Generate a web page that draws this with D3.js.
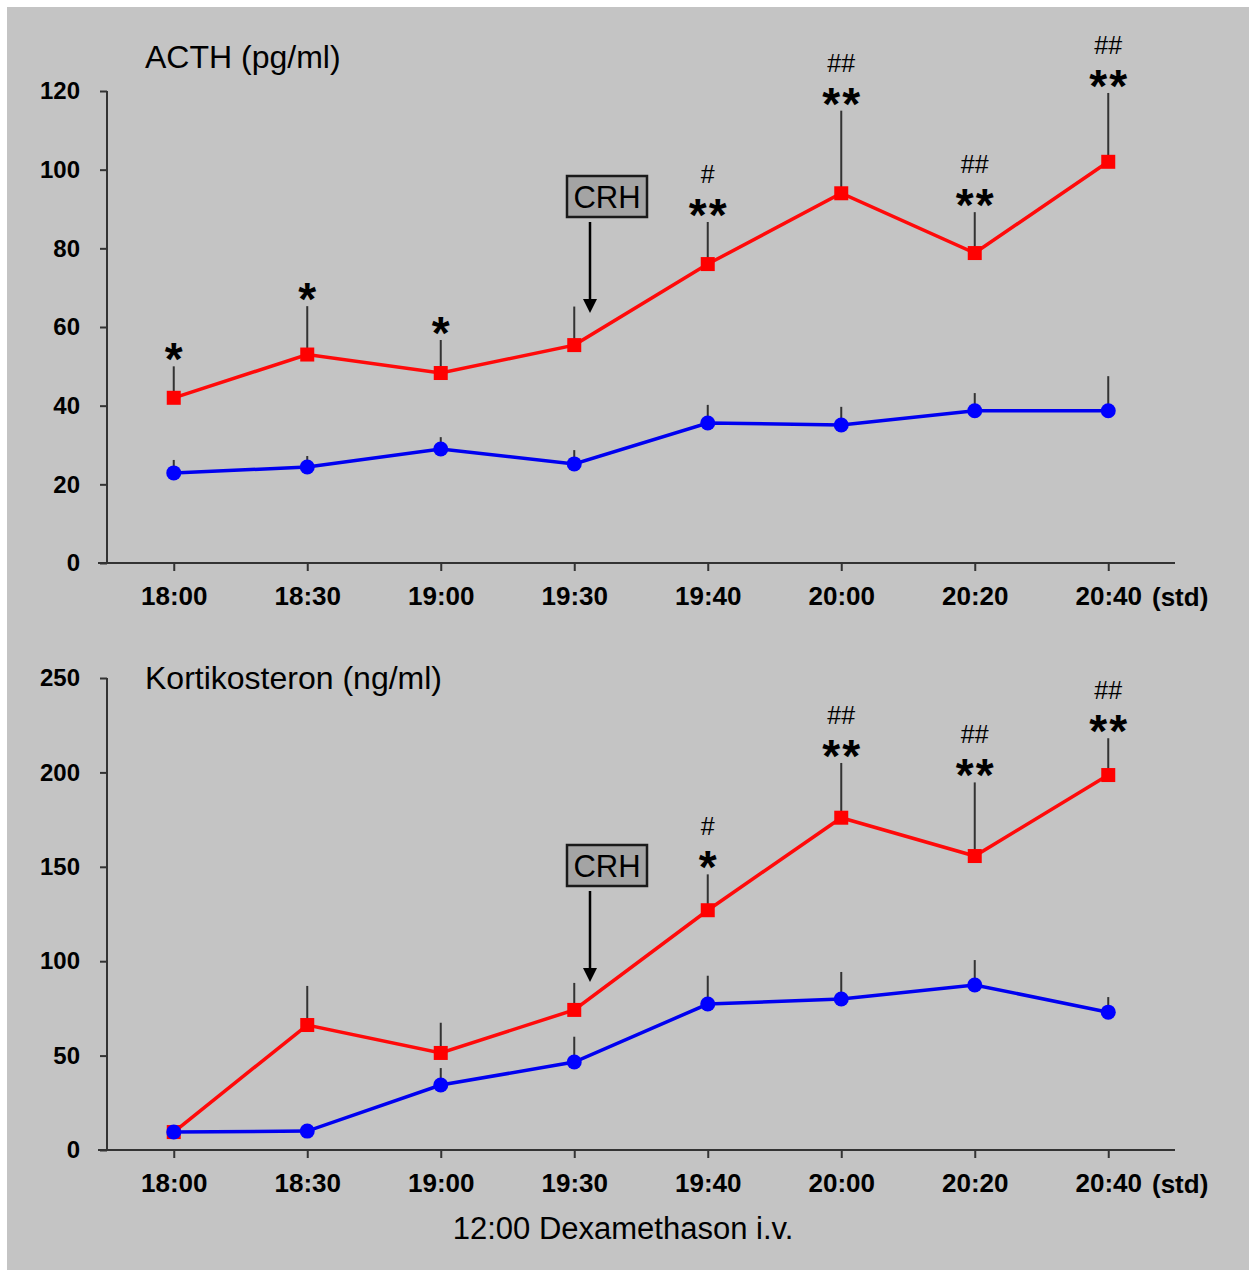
<!DOCTYPE html>
<html>
<head>
<meta charset="utf-8">
<script src="https://cdn.jsdelivr.net/npm/d3@7"></script>
<style>
  html, body { margin: 0; padding: 0; background: #ffffff; }
  svg { display: block; }
  text { font-family: "Liberation Sans", Arial, sans-serif; fill: #000; }
</style>
</head>
<body>
<svg id="chart" width="1249" height="1270"></svg>
<script>
// Sampling times after dexamethasone (x categories)
const times = ["18:00", "18:30", "19:00", "19:30", "19:40", "20:00", "20:20", "20:40"];

// ACTH (pg/ml): mean and upper error (SEM)
const acthRed      = [42, 53, 48.3, 55.4, 76, 94, 78.8, 102];
const acthRedErr   = [8, 12.3, 8.4, 9.8, 10.7, 21, 10.4, 17.5];
const acthBlue     = [22.9, 24.4, 29, 25.2, 35.6, 35.1, 38.7, 38.7];
const acthBlueErr  = [3.3, 2.8, 3, 3.5, 4.6, 4.6, 4.5, 8.8];
const acthStars    = ["*", "*", "*", "", "**", "**", "**", "**"];
const acthHashes   = ["", "", "", "", "#", "##", "##", "##"];
const acthTicks    = [0, 20, 40, 60, 80, 100, 120];

// Kortikosteron (ng/ml): mean and upper error (SEM)
const kortRed      = [9.5, 66.2, 51.4, 74.2, 127, 176, 155.7, 198.6];
const kortRedErr   = [0, 20.7, 16, 14.3, 19, 29, 39, 19.5];
const kortBlue     = [9.5, 10, 34.4, 46.6, 77.3, 80, 87.4, 73];
const kortBlueErr  = [0, 0, 9, 13.4, 15, 14.3, 13.2, 8];
const kortStars    = ["", "", "", "", "*", "**", "**", "**"];
const kortHashes   = ["", "", "", "", "#", "##", "##", "##"];
const kortTicks    = [0, 50, 100, 150, 200, 250];

const svg = d3.select("#chart");

// grey panel behind both plots
svg.append("rect")
  .attr("x", 7).attr("y", 7)
  .attr("width", 1242).attr("height", 1263)
  .attr("fill", "#c4c4c4");

const x = d3.scalePoint().domain(times).range([107, 1175]).padding(0.5);

function drawPanel(cfg) {
  const g = svg.append("g");
  const y = d3.scaleLinear().domain([0, cfg.max]).range([cfg.bottom, cfg.top]);

  // title
  g.append("text")
    .attr("x", 145).attr("y", cfg.titleY)
    .attr("font-size", 32)
    .text(cfg.title);

  // y axis
  const yAxis = g.append("g")
    .attr("transform", "translate(107,0)")
    .call(d3.axisLeft(y).tickValues(cfg.ticks).tickSize(7).tickPadding(20).tickFormat(d3.format("d")));
  yAxis.select(".domain").attr("stroke", "#333").attr("stroke-width", 2).attr("d", `M0,${cfg.top}V${cfg.bottom}`);
  yAxis.selectAll(".tick line").attr("stroke", "#333").attr("stroke-width", 2);
  yAxis.selectAll(".tick text")
    .attr("font-size", 24).attr("font-weight", "bold")
    .attr("font-family", "'Liberation Sans', Arial, sans-serif")
    .attr("fill", "#000");

  // x axis
  const xAxis = g.append("g")
    .attr("transform", `translate(0,${cfg.bottom})`)
    .call(d3.axisBottom(x).tickSize(8).tickPadding(16));
  xAxis.select(".domain").attr("stroke", "#333").attr("stroke-width", 2).attr("d", "M98,0H1175");
  xAxis.selectAll(".tick line").attr("stroke", "#333").attr("stroke-width", 2);
  xAxis.selectAll(".tick text")
    .attr("font-size", 26).attr("font-weight", "bold")
    .attr("font-family", "'Liberation Sans', Arial, sans-serif")
    .attr("fill", "#000");

  g.append("text")
    .attr("x", 1152)
    .attr("y", cfg.bottom + 42.5)
    .attr("font-size", 26).attr("font-weight", "bold")
    .text("(std)");

  const line = d3.line().x((d, i) => x(times[i])).y(d => y(d));

  // connecting lines
  g.append("path").datum(cfg.red)
    .attr("d", line).attr("fill", "none")
    .attr("stroke", "#ff0a0a").attr("stroke-width", 3.5);
  g.append("path").datum(cfg.blue)
    .attr("d", line).attr("fill", "none")
    .attr("stroke", "#0000f0").attr("stroke-width", 3.5);

  // upward error bars
  const errBars = (vals, errs) => g.append("g").selectAll("line")
    .data(vals).join("line")
    .attr("x1", (d, i) => x(times[i])).attr("x2", (d, i) => x(times[i]))
    .attr("y1", d => y(d)).attr("y2", (d, i) => y(d + errs[i]))
    .attr("stroke", "#333").attr("stroke-width", 2)
    .attr("display", (d, i) => errs[i] > 0 ? null : "none");
  errBars(cfg.red, cfg.redErr);
  errBars(cfg.blue, cfg.blueErr);

  // markers
  g.append("g").selectAll("rect")
    .data(cfg.red).join("rect")
    .attr("x", (d, i) => x(times[i]) - 7).attr("y", d => y(d) - 7)
    .attr("width", 14).attr("height", 14)
    .attr("fill", "#ff0000");
  g.append("g").selectAll("circle")
    .data(cfg.blue).join("circle")
    .attr("cx", (d, i) => x(times[i])).attr("cy", d => y(d))
    .attr("r", 7.5)
    .attr("fill", "#0000ff");

  // significance markers above the red error bars: "#" line over the asterisks
  cfg.red.forEach((v, i) => {
    const top = y(v + cfg.redErr[i]);
    const cx = x(times[i]);
    const starBase = top + 9;
    if (cfg.stars[i]) {
      g.append("text")
        .attr("x", cx + 1).attr("y", starBase)
        .attr("text-anchor", "middle")
        .attr("font-size", 46).attr("font-weight", "bold")
        .attr("letter-spacing", 2)
        .text(cfg.stars[i]);
    }
    if (cfg.hashes[i]) {
      g.append("text")
        .attr("x", cx).attr("y", starBase - 48)
        .attr("text-anchor", "middle")
        .attr("font-size", 25)
        .text(cfg.hashes[i]);
    }
  });

  // CRH injection marker
  const boxX = 567, boxW = 80, boxH = 41;
  g.append("rect")
    .attr("x", boxX).attr("y", cfg.crhY)
    .attr("width", boxW).attr("height", boxH)
    .attr("fill", "#a4a4a4").attr("stroke", "#1a1a1a").attr("stroke-width", 2.5);
  g.append("text")
    .attr("x", boxX + boxW / 2).attr("y", cfg.crhY + 32)
    .attr("text-anchor", "middle")
    .attr("font-size", 31)
    .text("CRH");
  const ax = 590, ay0 = cfg.crhY + 46, ay1 = cfg.crhY + 137;
  g.append("line")
    .attr("x1", ax).attr("x2", ax).attr("y1", ay0).attr("y2", ay1 - 12)
    .attr("stroke", "#000").attr("stroke-width", 2.5);
  g.append("path")
    .attr("d", `M${ax - 7},${ay1 - 14}L${ax + 7},${ay1 - 14}L${ax},${ay1}Z`)
    .attr("fill", "#000");
}

drawPanel({
  title: "ACTH (pg/ml)", titleY: 68, max: 120, top: 91, bottom: 563,
  ticks: acthTicks, red: acthRed, redErr: acthRedErr, blue: acthBlue, blueErr: acthBlueErr,
  stars: acthStars, hashes: acthHashes, crhY: 176
});

drawPanel({
  title: "Kortikosteron (ng/ml)", titleY: 689, max: 250, top: 678, bottom: 1150,
  ticks: kortTicks, red: kortRed, redErr: kortRedErr, blue: kortBlue, blueErr: kortBlueErr,
  stars: kortStars, hashes: kortHashes, crhY: 845
});

svg.append("text")
  .attr("x", 623).attr("y", 1239)
  .attr("text-anchor", "middle")
  .attr("font-size", 31)
  .text("12:00 Dexamethason i.v.");
</script>
</body>
</html>
